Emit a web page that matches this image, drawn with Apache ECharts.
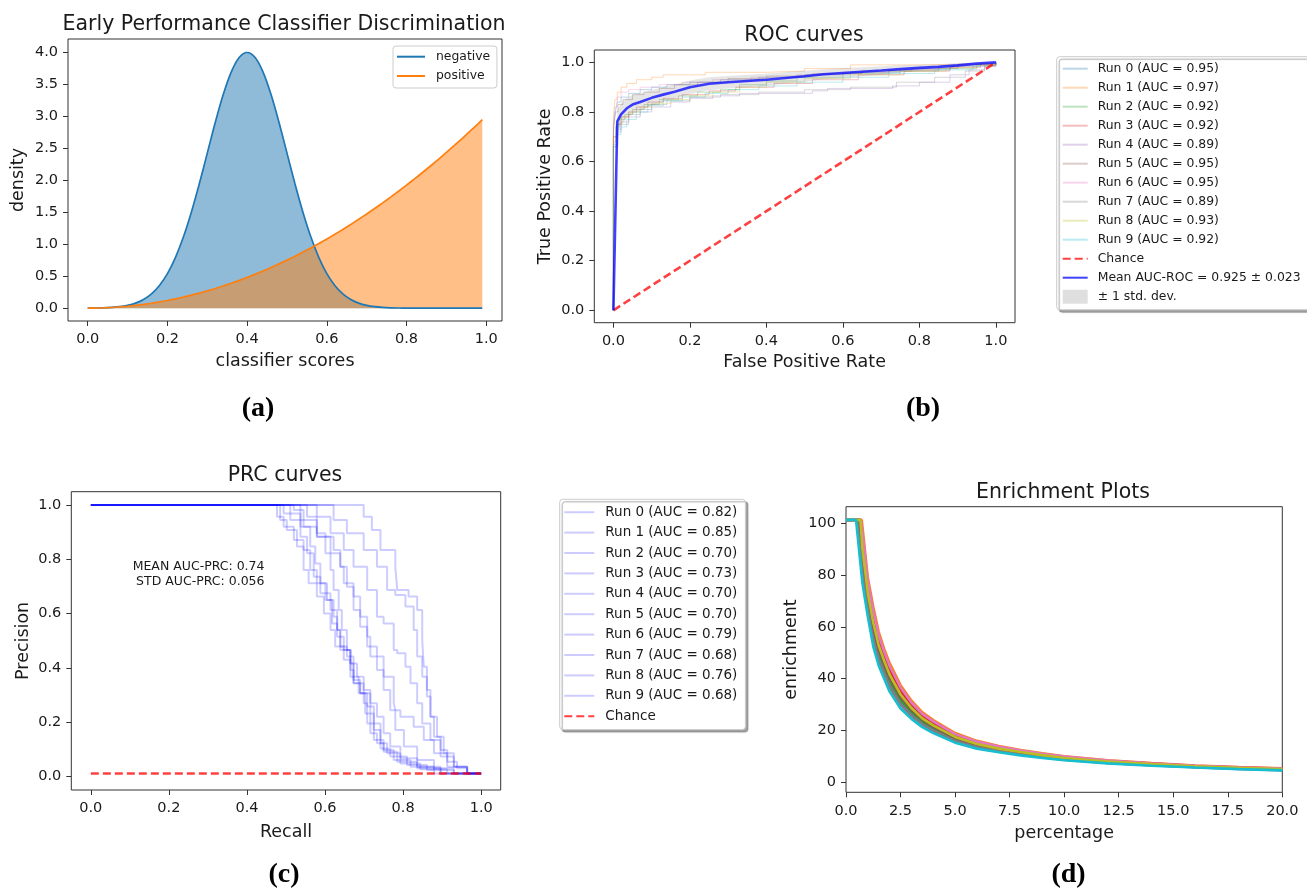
<!DOCTYPE html>
<html>
<head>
<meta charset="utf-8">
<script src="https://cdn.jsdelivr.net/npm/echarts@6/dist/echarts.min.js"></script>
<style>
  html, body { margin: 0; padding: 0; background: #ffffff; }
  #chart { width: 1307px; height: 889px; }
</style>
</head>
<body>
<div id="chart"></div>
<script>
// ---------- (a) classifier score densities ----------
const scoreX = [0, 0.02, 0.04, 0.06, 0.08, 0.10, 0.12, 0.14, 0.16, 0.18, 0.20, 0.22, 0.24, 0.26, 0.28, 0.30, 0.32, 0.34, 0.36, 0.38, 0.40,
  0.42, 0.44, 0.46, 0.48, 0.50, 0.52, 0.54, 0.56, 0.58, 0.60, 0.62, 0.64, 0.66, 0.68, 0.70, 0.72, 0.74, 0.76, 0.78, 0.80,
  0.82, 0.84, 0.86, 0.88, 0.90, 0.92, 0.94, 0.96, 0.98, 0.99];
const negDensity = [0.0013, 0.0029, 0.0061, 0.0123, 0.0238, 0.0443, 0.0792, 0.1358, 0.2239, 0.3547, 0.5399, 0.7895, 1.1092, 1.4973, 1.9419, 2.4197, 2.8969, 3.3322, 3.6827, 3.9104, 3.9894,
  3.9104, 3.6827, 3.3322, 2.8969, 2.4197, 1.9419, 1.4973, 1.1092, 0.7895, 0.5399, 0.3547, 0.2239, 0.1358, 0.0792, 0.0443, 0.0238, 0.0123, 0.0061, 0.0029, 0.0013,
  0.0006, 0.0002, 0.0001, 0, 0, 0, 0, 0, 0, 0];
const posDensity = [0, 0.0012, 0.0048, 0.0108, 0.0192, 0.03, 0.0432, 0.0588, 0.0768, 0.0972, 0.12, 0.1452, 0.1728, 0.2028, 0.2352, 0.27, 0.3072, 0.3468, 0.3888, 0.4332, 0.48,
  0.5292, 0.5808, 0.6348, 0.6912, 0.75, 0.8112, 0.8748, 0.9408, 1.0092, 1.08, 1.1532, 1.2288, 1.3068, 1.3872, 1.47, 1.5552, 1.6428, 1.7328, 1.8252, 1.92,
  2.0172, 2.1168, 2.2188, 2.3232, 2.43, 2.5392, 2.6508, 2.7648, 2.8812, 2.9403];

// ---------- (b) ROC curves: [fpr, tpr] corners per run ----------
const rocAuc = [0.95, 0.97, 0.92, 0.92, 0.89, 0.95, 0.95, 0.89, 0.93, 0.92];
const rocRun0 = [[0,0],[0,0.72],[0.005,0.80],[0.01,0.84],[0.02,0.86],[0.04,0.875],[0.07,0.89],[0.10,0.90],[0.14,0.91],[0.20,0.92],[0.28,0.93],[0.38,0.94],[0.50,0.95],[0.62,0.96],[0.75,0.97],[0.88,0.985],[0.96,0.995],[1,1]];
const rocRun1 = [[0,0],[0,0.78],[0.004,0.85],[0.01,0.88],[0.02,0.90],[0.035,0.915],[0.06,0.93],[0.10,0.94],[0.13,0.95],[0.24,0.96],[0.40,0.965],[0.50,0.975],[0.62,0.99],[0.80,0.995],[1,1]];
const rocRun2 = [[0,0],[0,0.68],[0.006,0.74],[0.015,0.77],[0.03,0.79],[0.05,0.81],[0.08,0.83],[0.12,0.85],[0.17,0.865],[0.22,0.88],[0.28,0.89],[0.33,0.91],[0.40,0.925],[0.48,0.94],[0.60,0.955],[0.72,0.965],[0.85,0.975],[0.95,0.99],[1,1]];
const rocRun3 = [[0,0],[0,0.70],[0.008,0.75],[0.02,0.78],[0.04,0.80],[0.06,0.82],[0.09,0.84],[0.13,0.855],[0.18,0.87],[0.25,0.885],[0.32,0.90],[0.42,0.915],[0.52,0.93],[0.64,0.95],[0.76,0.965],[0.88,0.98],[0.96,0.99],[1,1]];
const rocRun4 = [[0,0],[0,0.66],[0.01,0.72],[0.02,0.75],[0.04,0.78],[0.07,0.80],[0.10,0.82],[0.15,0.84],[0.20,0.855],[0.26,0.865],[0.33,0.875],[0.52,0.885],[0.56,0.895],[0.73,0.905],[0.80,0.92],[0.88,0.95],[0.93,0.97],[0.97,0.99],[1,1]];
const rocRun5 = [[0,0],[0,0.74],[0.005,0.80],[0.012,0.83],[0.025,0.85],[0.05,0.87],[0.08,0.88],[0.12,0.895],[0.16,0.91],[0.22,0.92],[0.30,0.935],[0.40,0.945],[0.52,0.955],[0.65,0.965],[0.78,0.975],[0.90,0.99],[1,1]];
const rocRun6 = [[0,0],[0,0.75],[0.004,0.82],[0.01,0.86],[0.02,0.88],[0.04,0.89],[0.07,0.90],[0.12,0.91],[0.18,0.92],[0.26,0.93],[0.36,0.94],[0.48,0.95],[0.60,0.96],[0.72,0.97],[0.85,0.985],[1,1]];
const rocRun7 = [[0,0],[0,0.67],[0.01,0.73],[0.02,0.76],[0.04,0.79],[0.07,0.81],[0.10,0.83],[0.14,0.845],[0.20,0.86],[0.28,0.87],[0.38,0.88],[0.50,0.89],[0.62,0.90],[0.74,0.92],[0.84,0.94],[0.92,0.965],[0.97,0.985],[1,1]];
const rocRun8 = [[0,0],[0,0.70],[0.008,0.75],[0.02,0.78],[0.04,0.80],[0.07,0.82],[0.10,0.835],[0.15,0.85],[0.20,0.865],[0.26,0.88],[0.33,0.90],[0.40,0.92],[0.50,0.935],[0.62,0.95],[0.75,0.965],[0.87,0.98],[0.95,0.99],[1,1]];
const rocRun9 = [[0,0],[0,0.66],[0.01,0.71],[0.02,0.74],[0.035,0.77],[0.06,0.80],[0.09,0.825],[0.13,0.845],[0.18,0.86],[0.24,0.875],[0.30,0.89],[0.38,0.905],[0.48,0.92],[0.60,0.94],[0.72,0.955],[0.84,0.97],[0.94,0.985],[1,1]];
const rocMeanFpr = [0, 0.0101, 0.02, 0.035, 0.05, 0.07, 0.10, 0.13, 0.16, 0.20, 0.25, 0.30, 0.35, 0.40, 0.45, 0.50, 0.55, 0.60, 0.65, 0.70, 0.75, 0.80, 0.85, 0.90, 0.95, 1];
const rocMeanTpr = [0, 0.762, 0.79, 0.815, 0.83, 0.84, 0.857, 0.870, 0.882, 0.900, 0.914, 0.920, 0.925, 0.930, 0.937, 0.944, 0.952, 0.957, 0.962, 0.967, 0.973, 0.978, 0.982, 0.988, 0.995, 1];
const rocStdTpr = [0, 0.045, 0.045, 0.04, 0.038, 0.035, 0.032, 0.03, 0.028, 0.027, 0.026, 0.025, 0.025, 0.024, 0.023, 0.022, 0.02, 0.02, 0.018, 0.017, 0.015, 0.013, 0.011, 0.009, 0.005, 0];
const rocMeanAuc = 0.925;
const rocStdAuc = 0.023;

// ---------- (c) precision-recall curves: [recall, precision] per run ----------
const prcAuc = [0.82, 0.85, 0.70, 0.73, 0.70, 0.70, 0.79, 0.68, 0.76, 0.68];
const prcRun0 = [[0,1],[0.622,1],[0.656,0.945],[0.699,0.896],[0.733,0.834],[0.759,0.773],[0.780,0.687],[0.806,0.669],[0.827,0.626],[0.836,0.540],[0.849,0.442],[0.861,0.368],[0.870,0.295],[0.887,0.221],[0.904,0.147],[0.930,0.086],[0.964,0.037],[1,0.012]];
const prcRun1 = [[0,1],[0.699,1],[0.720,0.957],[0.742,0.908],[0.780,0.834],[0.785,0.773],[0.814,0.687],[0.836,0.663],[0.849,0.614],[0.853,0.503],[0.861,0.405],[0.870,0.319],[0.879,0.221],[0.896,0.147],[0.913,0.098],[0.938,0.055],[0.964,0.031],[1,0.012]];
const prcRun2 = [[0,1],[0.477,1],[0.494,0.957],[0.520,0.920],[0.545,0.871],[0.562,0.834],[0.579,0.761],[0.605,0.712],[0.622,0.650],[0.631,0.589],[0.648,0.515],[0.665,0.466],[0.682,0.417],[0.699,0.368],[0.716,0.319],[0.733,0.270],[0.750,0.221],[0.767,0.160],[0.793,0.111],[0.836,0.068],[0.896,0.037],[1,0.012]];
const prcRun3 = [[0,1],[0.494,1],[0.537,0.969],[0.579,0.920],[0.622,0.883],[0.639,0.834],[0.648,0.773],[0.673,0.712],[0.690,0.663],[0.708,0.589],[0.716,0.515],[0.733,0.442],[0.750,0.393],[0.767,0.319],[0.780,0.245],[0.802,0.172],[0.836,0.111],[0.879,0.061],[0.930,0.031],[1,0.012]];
const prcRun4 = [[0,1],[0.511,1],[0.537,0.945],[0.554,0.883],[0.571,0.822],[0.588,0.736],[0.614,0.675],[0.631,0.614],[0.639,0.540],[0.656,0.479],[0.673,0.442],[0.690,0.356],[0.708,0.307],[0.725,0.258],[0.742,0.196],[0.750,0.135],[0.776,0.098],[0.819,0.061],[0.879,0.037],[1,0.012]];
const prcRun5 = [[0,1],[0.554,1],[0.579,0.957],[0.601,0.896],[0.614,0.822],[0.622,0.761],[0.635,0.687],[0.643,0.614],[0.656,0.540],[0.665,0.466],[0.673,0.393],[0.690,0.344],[0.716,0.307],[0.725,0.233],[0.742,0.172],[0.759,0.123],[0.793,0.086],[0.844,0.049],[0.913,0.027],[1,0.012]];
const prcRun6 = [[0,1],[0.579,1],[0.614,0.957],[0.648,0.896],[0.673,0.834],[0.708,0.773],[0.733,0.687],[0.750,0.589],[0.776,0.564],[0.785,0.466],[0.806,0.454],[0.819,0.405],[0.836,0.344],[0.849,0.270],[0.870,0.196],[0.896,0.135],[0.930,0.074],[0.964,0.037],[1,0.012]];
const prcRun7 = [[0,1],[0.485,1],[0.502,0.945],[0.528,0.908],[0.545,0.847],[0.558,0.761],[0.579,0.712],[0.597,0.663],[0.614,0.601],[0.626,0.540],[0.648,0.479],[0.665,0.430],[0.686,0.368],[0.703,0.307],[0.716,0.233],[0.733,0.160],[0.750,0.123],[0.785,0.092],[0.836,0.055],[0.896,0.031],[1,0.012]];
const prcRun8 = [[0,1],[0.537,1],[0.579,0.945],[0.614,0.883],[0.639,0.822],[0.656,0.773],[0.673,0.699],[0.690,0.614],[0.708,0.552],[0.733,0.479],[0.750,0.442],[0.776,0.368],[0.780,0.270],[0.793,0.245],[0.827,0.221],[0.853,0.184],[0.879,0.135],[0.913,0.086],[0.964,0.037],[1,0.012]];
const prcRun9 = [[0,1],[0.520,1],[0.545,0.982],[0.562,0.920],[0.575,0.847],[0.588,0.785],[0.601,0.712],[0.618,0.650],[0.631,0.564],[0.639,0.540],[0.665,0.466],[0.673,0.417],[0.699,0.344],[0.708,0.270],[0.725,0.196],[0.742,0.135],[0.767,0.104],[0.810,0.074],[0.861,0.043],[0.930,0.025],[1,0.012]];
const prcChance = 0.012;
const prcMeanAuc = 0.74;
const prcStdAuc = 0.056;

// ---------- (d) enrichment curves ----------
const enrichMax = 101.3;
const enrichStart = [0.55, 0.72, 0.60, 0.65, 0.50, 0.62, 0.68, 0.50, 0.66, 0.46];
const enrichX = [0.75, 1, 1.25, 1.5, 1.75, 2, 2.5, 3, 3.5, 4, 5, 6, 7, 8, 9, 10, 12, 14, 16, 18, 20];
const enrichRun0 = [83.6, 68.5, 57, 48.9, 43.5, 38.3, 31.2, 26.6, 23, 20.5, 16.4, 13.9, 12.3, 11, 9.9, 9, 7.7, 6.7, 5.9, 5.3, 4.8];
const enrichRun1 = [99, 79, 67.8, 58, 51.5, 46, 37.5, 31.5, 27, 24, 19, 16, 14, 12.5, 11.2, 10, 8.5, 7.4, 6.5, 5.9, 5.4];
const enrichRun2 = [84.7, 69.3, 57.8, 49.6, 44, 38.9, 31.7, 27, 23.3, 20.8, 16.6, 14.1, 12.4, 11.1, 10, 9, 7.7, 6.8, 6, 5.4, 4.9];
const enrichRun3 = [93.5, 75.3, 64, 54.8, 48.6, 43.3, 35.3, 29.8, 25.6, 22.8, 18.1, 15.3, 13.4, 12, 10.8, 9.6, 8.2, 7.2, 6.3, 5.7, 5.2];
const enrichRun4 = [81.4, 67, 55.5, 47.6, 42.3, 37.2, 30.3, 25.9, 22.4, 20, 16, 13.6, 12.1, 10.8, 9.8, 8.8, 7.5, 6.6, 5.9, 5.3, 4.8];
const enrichRun5 = [88, 71.5, 60.1, 51.5, 45.8, 40.5, 33, 28, 24.2, 21.5, 17.2, 14.5, 12.8, 11.5, 10.3, 9.3, 7.9, 6.9, 6.1, 5.5, 5];
const enrichRun6 = [96.8, 77.5, 66.3, 56.7, 50.4, 44.9, 36.6, 30.8, 26.4, 23.5, 18.6, 15.7, 13.8, 12.3, 11, 9.9, 8.4, 7.3, 6.4, 5.8, 5.3];
const enrichRun7 = [80.3, 66.3, 54.7, 47, 41.7, 36.7, 29.9, 25.6, 22.2, 19.8, 15.9, 13.5, 12, 10.7, 9.7, 8.7, 7.5, 6.6, 5.8, 5.2, 4.7];
const enrichRun8 = [90.2, 73, 61.6, 52.8, 46.9, 41.6, 33.9, 28.7, 24.7, 22, 17.5, 14.8, 13, 11.7, 10.5, 9.4, 8, 7, 6.2, 5.6, 5.1];
const enrichRun9 = [77, 64, 52.4, 45, 40, 35, 28.5, 24.5, 21.3, 19, 15.3, 13, 11.6, 10.4, 9.4, 8.5, 7.3, 6.4, 5.7, 5.1, 4.6];

// ---------- tick values ----------
const ticksUnit = [0, 0.2, 0.4, 0.6, 0.8, 1.0];
const ticksDensity = [0, 0.5, 1, 1.5, 2, 2.5, 3, 3.5, 4];
const ticksPercent = [0, 2.5, 5, 7.5, 10, 12.5, 15, 17.5, 20];
const ticksEnrich = [0, 20, 40, 60, 80, 100];

// ---------- styling ----------
const FONT = 'DejaVu Sans';
const INK = '#1a1a1a';
const FRAME = '#333333';
const TAB10 = ['#1f77b4', '#ff7f0e', '#2ca02c', '#d62728', '#9467bd', '#8c564b', '#e377c2', '#7f7f7f', '#bcbd22', '#17becf'];
const DASH = [8, 4];

const rocRuns = [rocRun0, rocRun1, rocRun2, rocRun3, rocRun4, rocRun5, rocRun6, rocRun7, rocRun8, rocRun9];
const prcRuns = [prcRun0, prcRun1, prcRun2, prcRun3, prcRun4, prcRun5, prcRun6, prcRun7, prcRun8, prcRun9];
const enrichRuns = [enrichRun0, enrichRun1, enrichRun2, enrichRun3, enrichRun4, enrichRun5, enrichRun6, enrichRun7, enrichRun8, enrichRun9];

const rocNames = rocAuc.map((a, i) => `Run ${i} (AUC = ${a.toFixed(2)})`);
const prcNames = prcAuc.map((a, i) => `Run ${i} (AUC = ${a.toFixed(2)})`);
const meanName = `Mean AUC-ROC = ${rocMeanAuc.toFixed(3)} \u00b1 ${rocStdAuc.toFixed(3)}`;
const stdName = '\u00b1 1 std. dev.';

const fmt1 = v => v.toFixed(1);
const fmt0 = v => String(Math.round(v));

function makeAxis(gridIndex, min, max, ticks, fmt, name, nameGap, isY) {
  return {
    type: 'value', gridIndex, min, max,
    axisLine: { show: false, onZero: false },
    splitLine: { show: false },
    axisTick: { show: true, inside: false, length: 5, lineStyle: { color: FRAME, width: 1 }, customValues: ticks },
    axisLabel: { customValues: ticks, formatter: fmt, margin: isY ? 10 : 11, fontSize: 14.5, color: INK, fontFamily: FONT },
    name, nameLocation: 'middle', nameGap,
    nameTextStyle: { fontSize: 17.5, color: INK, fontFamily: FONT }
  };
}

function gridBox(left, top, width, height) {
  return { left, top, width, height, show: true, borderColor: FRAME, borderWidth: 1, backgroundColor: '#ffffff', containLabel: false };
}

const series = [];

// (a) filled densities, then their outlines on top
series.push({
  type: 'line', xAxisIndex: 0, yAxisIndex: 0, z: 2, symbol: 'none', silent: true, smooth: 0.3,
  data: scoreX.map((x, i) => [x, negDensity[i]]),
  lineStyle: { width: 0, opacity: 0 },
  areaStyle: { color: '#1f77b4', opacity: 0.5 }
});
series.push({
  type: 'line', xAxisIndex: 0, yAxisIndex: 0, z: 2, symbol: 'none', silent: true, smooth: 0.3,
  data: scoreX.map((x, i) => [x, posDensity[i]]),
  lineStyle: { width: 0, opacity: 0 },
  areaStyle: { color: '#ff7f0e', opacity: 0.5 }
});
series.push({
  type: 'line', name: 'negative', xAxisIndex: 0, yAxisIndex: 0, z: 3, symbol: 'none', smooth: 0.3,
  data: scoreX.map((x, i) => [x, negDensity[i]]),
  lineStyle: { color: '#1f77b4', width: 1.7 }, itemStyle: { color: '#1f77b4' }
});
series.push({
  type: 'line', name: 'positive', xAxisIndex: 0, yAxisIndex: 0, z: 3, symbol: 'none', smooth: 0.3,
  data: scoreX.map((x, i) => [x, posDensity[i]]),
  lineStyle: { color: '#ff7f0e', width: 1.7 }, itemStyle: { color: '#ff7f0e' }
});

// (b) ROC runs, chance diagonal, mean curve and std band
rocRuns.forEach((run, i) => {
  series.push({
    type: 'line', name: rocNames[i], xAxisIndex: 1, yAxisIndex: 1, z: 2, symbol: 'none', step: 'end',
    data: run,
    lineStyle: { color: TAB10[i], width: 1, opacity: 0.3 }, itemStyle: { color: TAB10[i] }
  });
});
series.push({
  type: 'line', name: 'Chance', xAxisIndex: 1, yAxisIndex: 1, z: 4, symbol: 'none',
  data: [[0, 0], [1, 1]],
  lineStyle: { color: '#ff0000', width: 2.6, opacity: 0.75, type: DASH }, itemStyle: { color: '#ff0000' }
});
series.push({
  type: 'custom', name: stdName, xAxisIndex: 1, yAxisIndex: 1, z: 3, silent: true,
  itemStyle: { color: 'rgba(128,128,128,0.25)' },
  data: [[0, 0]],
  renderItem(params, api) {
    const pts = [];
    for (let i = 0; i < rocMeanFpr.length; i++) {
      pts.push(api.coord([rocMeanFpr[i], Math.min(rocMeanTpr[i] + rocStdTpr[i], 1)]));
    }
    for (let i = rocMeanFpr.length - 1; i >= 0; i--) {
      pts.push(api.coord([rocMeanFpr[i], Math.max(rocMeanTpr[i] - rocStdTpr[i], 0)]));
    }
    return { type: 'polygon', shape: { points: pts }, style: { fill: 'rgba(128,128,128,0.2)' } };
  }
});
series.push({
  type: 'line', name: meanName, xAxisIndex: 1, yAxisIndex: 1, z: 5, symbol: 'none',
  data: rocMeanFpr.map((x, i) => [x, rocMeanTpr[i]]),
  lineStyle: { color: '#0000ff', width: 2.6, opacity: 0.75 }, itemStyle: { color: '#0000ff' }
});

// (c) precision-recall runs and chance level
prcRuns.forEach((run, i) => {
  series.push({
    type: 'line', name: prcNames[i], xAxisIndex: 2, yAxisIndex: 2, z: 2, symbol: 'none', step: 'start',
    data: run,
    lineStyle: { color: '#0000ff', width: 2, opacity: 0.2 }, itemStyle: { color: '#0000ff' }
  });
});
series.push({
  type: 'line', name: 'Chance', xAxisIndex: 2, yAxisIndex: 2, z: 3, symbol: 'none',
  data: [[0, prcChance], [1, prcChance]],
  lineStyle: { color: '#ff0000', width: 2.6, opacity: 0.75, type: DASH }, itemStyle: { color: '#ff0000' }
});

// (d) enrichment runs
enrichRuns.forEach((vals, i) => {
  const pts = [[0, enrichMax], [enrichStart[i], enrichMax]].concat(enrichX.map((x, k) => [x, vals[k]]));
  series.push({
    type: 'line', xAxisIndex: 3, yAxisIndex: 3, z: 2 + i * 0.01, symbol: 'none', silent: true,
    data: pts,
    lineStyle: { color: TAB10[i], width: 2.6 }
  });
});

const legendCommon = {
  orient: 'vertical', align: 'left', selectedMode: false,
  itemStyle: { opacity: 0 },
  backgroundColor: '#ffffff', borderColor: '#cccccc', borderWidth: 1, borderRadius: 3
};

const option = {
  animation: false,
  backgroundColor: '#ffffff',
  textStyle: { fontFamily: FONT },
  title: [
    { text: 'Early Performance Classifier Discrimination', left: 284, top: 25 },
    { text: 'ROC curves', left: 804, top: 36 },
    { text: 'PRC curves', left: 285, top: 476 },
    { text: 'Enrichment Plots', left: 1063, top: 493 }
  ].map(t => Object.assign(t, {
    textAlign: 'center', textVerticalAlign: 'middle', padding: 0,
    textStyle: { fontSize: 20.5, fontWeight: 'normal', color: INK, fontFamily: FONT }
  })).concat([
    { text: '(a)', left: 258, top: 409 },
    { text: '(b)', left: 923, top: 409 },
    { text: '(c)', left: 284, top: 875 },
    { text: '(d)', left: 1068.5, top: 875 }
  ].map(t => Object.assign(t, {
    textAlign: 'center', textVerticalAlign: 'middle', padding: 0,
    textStyle: { fontSize: 28, fontWeight: 'bold', color: '#000000', fontFamily: 'Liberation Serif' }
  }))).concat([
    {
      text: `MEAN AUC-PRC: ${prcMeanAuc.toFixed(2)}\nSTD AUC-PRC: ${prcStdAuc.toFixed(3)}`,
      left: 264.5, top: 574, textAlign: 'right', textVerticalAlign: 'middle', padding: 0,
      textStyle: { fontSize: 12.5, lineHeight: 15, fontWeight: 'normal', color: INK, fontFamily: FONT }
    }
  ]),
  grid: [
    gridBox(68, 39, 434, 282),
    gridBox(594.3, 50, 420.7, 272.7),
    gridBox(71.3, 491.7, 429.4, 298.3),
    gridBox(846, 506.7, 436.3, 285.6)
  ],
  xAxis: [
    makeAxis(0, -0.0495, 1.0395, ticksUnit, fmt1, 'classifier scores', 31, false),
    makeAxis(1, -0.05, 1.05, ticksUnit, fmt1, 'False Positive Rate', 30.3, false),
    makeAxis(2, -0.05, 1.05, ticksUnit, fmt1, 'Recall', 33, false),
    makeAxis(3, 0, 20, ticksPercent, fmt1, 'percentage', 32, false)
  ],
  yAxis: [
    makeAxis(0, -0.2, 4.2, ticksDensity, fmt1, 'density', 41, true),
    makeAxis(1, -0.05, 1.05, ticksUnit, fmt1, 'True Positive Rate', 40, true),
    makeAxis(2, -0.049, 1.049, ticksUnit, fmt1, 'Precision', 38.5, true),
    makeAxis(3, -3.86, 106.4, ticksEnrich, fmt0, 'enrichment', 45.5, true)
  ],
  legend: [
    Object.assign({}, legendCommon, {
      data: ['negative', 'positive'],
      left: 393, top: 46, padding: [3.7, 6.7, 5, 3],
      itemWidth: 28, itemHeight: 14, itemGap: 5.3,
      backgroundColor: 'rgba(255,255,255,0.8)',
      textStyle: { fontSize: 12.4, lineHeight: 14, padding: [0, 0, 0, 6], color: INK, fontFamily: FONT }
    }),
    Object.assign({}, legendCommon, {
      data: rocNames.concat(['Chance', meanName, { name: stdName, icon: 'rect', itemStyle: { opacity: 1, color: 'rgba(128,128,128,0.25)' } }]),
      left: 1056.7, top: 56.7, padding: [5, 14, 6, 5],
      itemWidth: 25, itemHeight: 14, itemGap: 5,
      shadowColor: 'rgba(0,0,0,0.35)', shadowOffsetX: 2.5, shadowOffsetY: 2.5, shadowBlur: 1,
      textStyle: { fontSize: 12.4, lineHeight: 14, padding: [0, 0, 0, 5], color: INK, fontFamily: FONT }
    }),
    Object.assign({}, legendCommon, {
      data: prcNames.concat(['Chance']),
      left: 559.7, top: 499.3, padding: [5.9, 8, 6.3, 3.6],
      itemWidth: 30, itemHeight: 14, itemGap: 6.4,
      shadowColor: 'rgba(0,0,0,0.35)', shadowOffsetX: 2.5, shadowOffsetY: 2.5, shadowBlur: 1,
      textStyle: { fontSize: 13.5, lineHeight: 14, padding: [0, 0, 0, 6], color: INK, fontFamily: FONT }
    })
  ],
  series
};

const chart = echarts.init(document.getElementById('chart'), null, { renderer: 'canvas' });
chart.setOption(option);
</script>
</body>
</html>
